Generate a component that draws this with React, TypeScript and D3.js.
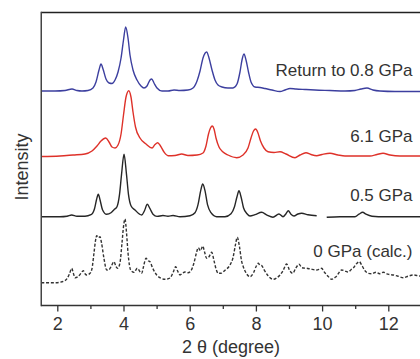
import React from "react";
import * as d3 from "d3";

// ---- data (2θ in degrees, intensity in arbitrary units above each trace's baseline) ----
const seriesNames = ["Return to 0.8 GPa", "6.1 GPa", "0.5 GPa", "0 GPa (calc.)"];
const seriesColors = ["#3c3f9f", "#de3129", "#262626", "#333333"];
const seriesOffsets = [214.5, 149.5, 88.8, 22.8];

const blueTheta = [1.5, 1.915, 2.218, 2.429, 2.58, 2.731, 2.912, 3.063, 3.154, 3.245, 3.305, 3.366, 3.456, 3.547, 3.638, 3.729, 3.82, 3.911, 3.985, 4.051, 4.121, 4.181, 4.272, 4.393, 4.514, 4.604, 4.695, 4.786, 4.837, 4.906, 4.997, 5.148, 5.33, 5.511, 5.692, 5.934, 6.085, 6.206, 6.297, 6.387, 6.498, 6.568, 6.659, 6.749, 6.84, 6.961, 7.142, 7.293, 7.414, 7.504, 7.565, 7.625, 7.686, 7.761, 7.837, 7.958, 8.109, 8.26, 8.471, 8.713, 8.864, 9.015, 9.196, 9.468, 9.77, 10.223, 10.676, 10.978, 11.159, 11.341, 11.522, 11.734, 12.187, 12.942, 13.5];
const blueI = [0, 0, 0.5, 2, 0.5, 0, 0.5, 3, 9, 21, 27, 22, 12, 8, 7.5, 11, 19, 33, 51, 64, 53, 36, 21, 11, 5, 3, 5, 11, 12, 8, 3, 0, 0, 1, 0.5, 1, 3, 10, 20, 33, 39, 33, 21, 11, 6, 4, 3, 3, 7, 19, 31, 37, 31, 19, 9, 4, 3.5, 2.5, 1, -0.5, 1, 2.5, 2, 1.5, 1, 0.5, 0, 0.5, 2, 3, 1, 0, -0.5, -0.5, -0.5];

const redTheta = [1.5, 2.066, 2.459, 2.822, 3.033, 3.184, 3.305, 3.447, 3.547, 3.638, 3.729, 3.82, 3.911, 3.985, 4.061, 4.145, 4.211, 4.272, 4.347, 4.483, 4.665, 4.846, 4.936, 5.018, 5.103, 5.208, 5.33, 5.541, 5.743, 5.933, 6.206, 6.387, 6.477, 6.553, 6.613, 6.668, 6.719, 6.779, 6.87, 6.982, 7.142, 7.405, 7.595, 7.746, 7.837, 7.912, 7.979, 8.048, 8.124, 8.229, 8.35, 8.532, 8.713, 8.894, 9.166, 9.317, 9.498, 9.649, 9.821, 9.982, 10.223, 10.465, 10.676, 11.432, 11.643, 11.825, 12.036, 12.338, 12.942, 13.5];
const redI = [-0.5, 0, 1, 2, 5, 10, 15, 18, 14, 9, 8, 11, 22, 41, 59, 65.3, 59, 44, 29, 18, 12, 8, 11.5, 13.3, 10, 4, 0.3, 0.5, 2, 0.5, 1, 3, 10, 22, 28, 30, 27, 18, 9, 4.3, 1, -1.7, 1, 8, 18, 25, 27, 23, 15, 8, 4.3, 3.5, 4.3, 2, -1.7, 1, 3.3, 1.5, 0.3, 1.5, 2.7, 1, 0, 0, 1.5, 2.7, 1, 0, 0, 0];

// null marks the break in the measured pattern
const blackTheta = [1.5, 2.066, 2.278, 2.42, 2.58, 2.822, 3.003, 3.109, 3.169, 3.224, 3.275, 3.35, 3.477, 3.607, 3.698, 3.788, 3.864, 3.925, 4.001, 4.076, 4.136, 4.211, 4.332, 4.535, 4.619, 4.704, 4.785, 4.876, 4.997, 5.178, 5.329, 5.481, 5.692, 5.994, 6.145, 6.236, 6.317, 6.378, 6.447, 6.523, 6.628, 6.8, 7.051, 7.233, 7.338, 7.414, 7.474, 7.535, 7.61, 7.716, 7.806, 7.958, 8.16, 8.32, 8.501, 8.682, 8.803, 8.894, 8.964, 9.045, 9.136, 9.257, 9.368, 9.559, 9.821, 9.97, 10.124, 10.526, 10.978, 11.099, 11.211, 11.31, 11.492, 11.885, 12.942, 13.5];
const blackI: (number | null)[] = [0, 0, 0.5, 1.7, 0.5, 0.5, 2, 8, 17, 22.4, 17, 7, 2.4, 4, 7, 10, 22, 42, 62.4, 42, 22, 11, 6.7, 1.7, 6, 12.4, 8, 2.5, 0.3, 1.2, 0.5, 1.2, 0, 1, 4, 12, 26, 32.7, 26, 12, 4, 0, 0, 3, 10, 20, 26, 20, 9, 3, 0.7, 2, 4.4, 1.5, -0.6, 2.7, 0, 3, 6, 2.5, 0.7, 2.7, 3.4, 2, 1, null, -0.6, 0, 0, 2.5, 4.4, 2.5, 0.5, 0, 0, 0];

const calcTheta = [1.5, 1.915, 2.066, 2.187, 2.278, 2.354, 2.42, 2.474, 2.52, 2.61, 2.701, 2.77, 2.822, 2.873, 2.973, 3.033, 3.094, 3.139, 3.175, 3.224, 3.275, 3.32, 3.396, 3.477, 3.547, 3.623, 3.698, 3.759, 3.81, 3.879, 3.94, 3.985, 4.03, 4.076, 4.121, 4.202, 4.302, 4.402, 4.483, 4.535, 4.589, 4.665, 4.725, 4.785, 4.861, 4.988, 5.118, 5.239, 5.39, 5.481, 5.562, 5.616, 5.692, 5.767, 5.843, 5.933, 6.024, 6.115, 6.19, 6.244, 6.311, 6.378, 6.432, 6.498, 6.568, 6.649, 6.719, 6.779, 6.849, 6.93, 7.051, 7.202, 7.293, 7.368, 7.422, 7.489, 7.55, 7.604, 7.701, 7.806, 7.912, 7.988, 8.057, 8.109, 8.16, 8.23, 8.351, 8.511, 8.622, 8.713, 8.804, 8.915, 8.999, 9.096, 9.181, 9.287, 9.378, 9.52, 9.65, 9.821, 9.906, 9.972, 10.042, 10.148, 10.275, 10.405, 10.577, 10.676, 10.776, 10.858, 10.927, 11.024, 11.109, 11.19, 11.281, 11.381, 11.492, 11.613, 11.719, 11.835, 11.977, 12.137, 12.279, 12.44, 12.582, 12.743, 12.945, 13.5];
const calcI = [0, 0, 0.5, 1.7, 4, 9, 14.4, 9, 5, 6, 9.5, 12, 9, 7.7, 9.4, 14, 30, 42, 47, 45, 46, 40, 24, 12.7, 13, 17, 21, 16, 14.4, 20, 40, 56, 63.7, 50, 30, 12.7, 10.4, 14.4, 11, 9.4, 16, 24.4, 22, 21, 15, 7.7, 4.5, 3.4, 4.7, 10, 16, 12, 7.7, 9.5, 10.7, 10, 12, 20, 30, 35, 32, 36.7, 31, 24.4, 26, 30.4, 22, 14, 9.4, 9.4, 12.5, 17.7, 25, 38, 45.4, 36, 22, 16, 9, 6, 10, 16, 19.4, 17.5, 17, 13, 7, 3.4, 5, 7.7, 12, 18.7, 12.5, 9.4, 14, 18.4, 15, 14.4, 13.5, 12.7, 13.5, 14.4, 11, 7, 3.4, 6, 12.7, 11.7, 10.7, 13, 14.7, 19, 21, 17, 12, 9.4, 9, 10.5, 9, 10.4, 8.5, 7.7, 6.5, 5, 6.5, 7.7, 6.7, 6.7];

const xTicksMajor = [2, 4, 6, 8, 10, 12];
const xTicksMinor = [3, 5, 7, 9, 11, 13];
const xTitle = "2 θ (degree)";
const yTitle = "Intensity";

const W = 420;
const H = 359;
const FONT = "'Liberation Sans', Arial, sans-serif";
const labelBaselines = [76, 141.5, 200.5, 256.5];

export default function App() {
  const x = d3.scaleLinear().domain([1.5, 13.5]).range([41.25, 41.25 + 12 * 33.1]);
  const y = d3.scaleLinear().domain([0, 293]).range([305.5, 12.5]);

  const thetas = [blueTheta, redTheta, blackTheta, calcTheta];
  const intens: (number | null)[][] = [blueI, redI, blackI, calcI];

  const line = d3
    .line<[number, number | null]>()
    .defined((d) => d[1] !== null)
    .x((d) => x(d[0]))
    .curve(d3.curveMonotoneX);

  const left = x(1.5);
  const bottom = y(0);
  const top = y(293);

  return (
    <svg width={W} height={H} style={{ position: "absolute", left: 0, top: 0, background: "#fff" }}>
      <defs>
        <clipPath id="plot">
          <rect x={left} y={0} width={W - left} height={bottom} />
        </clipPath>
      </defs>
      <g clipPath="url(#plot)">
        {thetas.map((th, i) => {
          const pts = th.map((t, j) => [t, intens[i][j]] as [number, number | null]);
          const l = line.y((d) => y((d[1] as number) + seriesOffsets[i]));
          return (
            <path
              key={i}
              d={l(pts) || ""}
              fill="none"
              stroke={seriesColors[i]}
              strokeWidth={1.4}
              strokeDasharray={i === 3 ? "3,1.8" : undefined}
              strokeLinejoin="round"
            />
          );
        })}
      </g>
      {/* frame */}
      <line x1={left} x2={W} y1={top} y2={top} stroke="#222" strokeWidth={1.5} />
      <line x1={left} x2={left} y1={top - 0.75} y2={bottom + 0.75} stroke="#444" strokeWidth={1.5} />
      <line x1={left} x2={W} y1={bottom} y2={bottom} stroke="#333" strokeWidth={1.5} />
      {xTicksMajor.map((t) => (
        <g key={"M" + t}>
          <line x1={x(t)} x2={x(t)} y1={bottom} y2={bottom + 6} stroke="#333" strokeWidth={1.3} />
          <text x={x(t)} y={330} textAnchor="middle" fontFamily={FONT} fontSize={18} fill="#333">
            {t}
          </text>
        </g>
      ))}
      {xTicksMinor.map((t) => (
        <line key={"m" + t} x1={x(t)} x2={x(t)} y1={bottom} y2={bottom + 3.5} stroke="#333" strokeWidth={1.3} />
      ))}
      <text x={231} y={352.5} textAnchor="middle" fontFamily={FONT} fontSize={18} fill="#333">
        {xTitle}
      </text>
      <text
        transform={`translate(28,167) rotate(-90)`}
        textAnchor="middle"
        fontFamily={FONT}
        fontSize={18}
        fill="#333"
      >
        {yTitle}
      </text>
      {seriesNames.map((n, i) => (
        <text
          key={n}
          x={412.5}
          y={labelBaselines[i]}
          textAnchor="end"
          fontFamily={FONT}
          fontSize={17}
          fill="#333"
        >
          {n}
        </text>
      ))}
    </svg>
  );
}
